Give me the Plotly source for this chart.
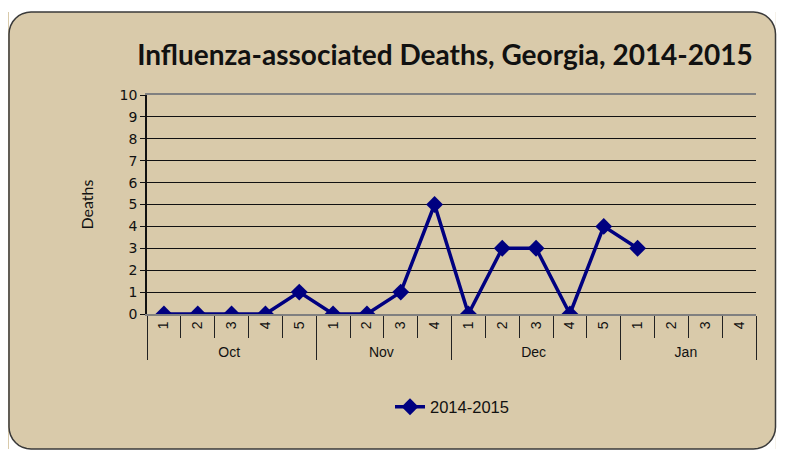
import math
import plotly.graph_objects as go

months = ["Oct"] * 5 + ["Nov"] * 4 + ["Dec"] * 5 + ["Jan"] * 4
weeks = ["1", "2", "3", "4", "5", "1", "2", "3", "4", "1", "2", "3", "4", "5", "1", "2", "3", "4"]
deaths = [0, 0, 0, 0, 1, 0, 0, 1, 5, 0, 3, 3, 0, 4, 3, None, None, None]
series_name = "2014-2015"
title = "Influenza-associated Deaths, Georgia, 2014-2015"
y_ticks = list(range(0, 11))

BG = "#D9CAAA"
NAVY = "#000080"

# page body has an 8px margin; figure pixel = page pixel - 8
OFF = 8
W, H = 785 - 2 * OFF, 451 - OFF
L, T = 147 - OFF, 95 - OFF
R = W - (756 - OFF)
B = H - (314 - OFF)
pw, ph = W - L - R, H - T - B


def P(x, y):
    return f"{(x - L) / pw:.5f},{(H - B - y) / ph:.5f}"


def rect(xa, ya, xb, yb, color):
    ax, ay = (xa - L) / pw, (H - B - ya) / ph
    bx, by = (xb - L) / pw, (H - B - yb) / ph
    return dict(type="rect", xref="paper", yref="paper", layer="below",
                x0=ax, x1=bx, y0=ay, y1=by, fillcolor=color, line=dict(width=0))


# rounded frame (figure px)
x0, y0, x1, y1, rr = 1, 4, W - 1.5, H - 2, 22
corner_defs = [(x1 - rr, y0 + rr, -90, (x1, y0)), (x1 - rr, y1 - rr, 0, (x1, y1)),
               (x0 + rr, y1 - rr, 90, (x0, y1)), (x0 + rr, y0 + rr, 180, (x0, y0))]
pts = []
corner_paths = []
for cx, cy, a0, cp in corner_defs:
    arc = []
    for k in range(9):
        a = math.radians(a0 + k * 90 / 8)
        arc.append((cx + rr * math.cos(a), cy + rr * math.sin(a)))
    pts += arc
    poly = [cp] + arc
    corner_paths.append(dict(type="path", xref="paper", yref="paper", layer="below",
                             path="M " + " L ".join(P(x, y) for x, y in poly) + " Z",
                             fillcolor="white", line=dict(width=0)))
frame_path = "M " + " L ".join(P(x, y) for x, y in pts) + " Z"

fig = go.Figure()
fig.add_trace(go.Scatter(
    x=[months, weeks], y=deaths, mode="lines+markers", name=series_name,
    line=dict(color=NAVY, width=3.5),
    marker=dict(symbol="diamond", size=13, color=NAVY),
    connectgaps=False,
))

shapes = [rect(0, 0, W, y0, "white"), rect(x1, 0, W, H, "white"), rect(0, y1, W, H, "white")]
shapes += corner_paths
shapes += [dict(type="path", xref="paper", yref="paper", layer="below", path=frame_path,
                line=dict(color="#3a3a3a", width=1.5))]

fig.update_layout(
    shapes=shapes,
    width=W, height=H,
    margin=dict(l=L, r=R, t=T, b=B, autoexpand=False),
    paper_bgcolor=BG,
    plot_bgcolor=BG,
    title=dict(text="<b>" + title + "</b>", x=(445 - OFF) / W, xanchor="center",
               y=1 - (55 - OFF) / H, yanchor="middle", automargin=False,
               font=dict(family="Lato", size=28, color="#111111")),
    showlegend=True,
    legend=dict(orientation="h", x=(452 - OFF - L) / pw, xanchor="center",
                y=-(407 - OFF - (H - B)) / ph, yanchor="middle",
                bgcolor="rgba(0,0,0,0)",
                font=dict(family="Liberation Sans", size=16.5, color="#111111")),
    xaxis=dict(
        type="multicategory",
        range=[-0.5, 17.5], automargin=False,
        showgrid=False,
        showline=True, linecolor="#808080", linewidth=1.5, mirror=True,
        ticks="outside", tickson="boundaries", ticklen=22, tickcolor="#222222",
        tickangle=-90,
        tickfont=dict(family="Liberation Sans", size=14, color="#111111"),
        showdividers=True, dividercolor="#222222", dividerwidth=1,
        zeroline=False,
    ),
    yaxis=dict(
        range=[0, 10], tickvals=y_ticks, automargin=False,
        showgrid=True, gridcolor="#111111", gridwidth=1,
        showline=True, linecolor="#111111", linewidth=1.5,
        ticks="outside", ticklen=5, tickcolor="#111111",
        tickfont=dict(family="DejaVu Sans", size=14, color="#111111"),
        title=dict(text="Deaths", font=dict(family="Lato", size=16, color="#111111"), standoff=22),
        zeroline=False,
    ),
)

fig.write_html("out.html")
